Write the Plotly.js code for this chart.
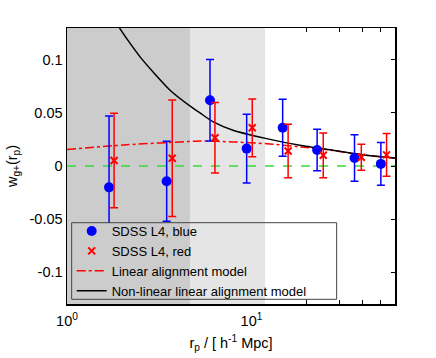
<!DOCTYPE html>
<html>
<head>
<meta charset="utf-8">
<script src="https://cdn.plot.ly/plotly-3.0.1.min.js"></script>
<style>html,body{margin:0;padding:0;background:#fff;}#chart{width:436px;height:358px;}</style>
</head>
<body>
<div id="chart"></div>
<script>
// Measured points (r_p in h^-1 Mpc)
const rpBlue  = [1.69, 3.47, 5.96, 9.42, 14.76, 22.7, 36.2, 50.3];
const wBlue   = [-0.0201, -0.0144, 0.062, 0.0164, 0.036, 0.0151, 0.0075, 0.002];
const errBlue = [0.0673, 0.0377, 0.0384, 0.0324, 0.0269, 0.0195, 0.0219, 0.0202];

const rpRed  = [1.80, 3.72, 6.34, 10.1, 15.8, 24.5, 39.4, 54.0];
const wRed   = [0.0052, 0.0073, 0.0266, 0.036, 0.0142, 0.0101, 0.0083, 0.0105];
const errRed = [0.0445, 0.0548, 0.0332, 0.0272, 0.0252, 0.0211, 0.0123, 0.0202];

// Models
const rpLA = [1.0, 2.1, 4.84, 5.26, 7.94, 12.08, 18.3, 27.7, 42.1, 60];
const wLA  = [0.0155, 0.020, 0.0233, 0.0236, 0.0227, 0.021, 0.018, 0.0146, 0.0100, 0.0074];

const rpNLA = [1.85, 1.92, 2.49, 3.62, 4.84, 5.26, 6.21, 7.94, 12.08, 18.3, 27.7, 42.1, 60];
const wNLA  = [0.138, 0.1306, 0.1028, 0.0714, 0.0542, 0.050, 0.0415, 0.0337, 0.0258, 0.0195, 0.0148, 0.0101, 0.0075];

// Scale cuts (shaded regions)
const xMin = 1, cut1 = 4.64, cut2 = 11.84, xMax = 60;

const xTickVals = [1, 10];
const xTickText = ['10<sup>0</sup>', '10<sup>1</sup>'];
const xMinorVals = [20, 30, 40, 50];
const yTickVals = [-0.1, -0.05, 0, 0.05, 0.1];
const yTickText = ['-0.1', '-0.05', '0', '0.05', '0.1'];

const FONT = 'Liberation Sans, Arial, sans-serif';
const FS = 14.5;
const LFS = 13;

const traces = [
  {x: rpLA, y: wLA, mode: 'lines', name: 'Linear alignment model', legendrank: 3,
   line: {color: '#ff0000', width: 1.5, dash: 'dashdot', shape: 'spline', smoothing: 0.6}},
  {x: rpNLA, y: wNLA, mode: 'lines', name: 'Non-linear linear alignment model', legendrank: 4,
   line: {color: '#000000', width: 1.5, shape: 'spline', smoothing: 0.6}},
  {x: rpBlue, y: wBlue, mode: 'markers', name: 'SDSS L4, blue', legendrank: 1,
   marker: {color: '#0000ff', size: 10, symbol: 'circle'},
   error_y: {type: 'data', array: errBlue, visible: true, color: '#0000ff', thickness: 1.5, width: 4}},
  {x: rpRed, y: wRed, mode: 'markers', name: 'SDSS L4, red', legendrank: 2,
   marker: {color: '#ff0000', size: 7, symbol: 'x-thin', line: {color: '#ff0000', width: 2}},
   error_y: {type: 'data', array: errRed, visible: true, color: '#ff0000', thickness: 1.5, width: 4}},
  {x: [], y: [], yaxis: 'y2', showlegend: false, hoverinfo: 'skip'}
];

// legend box (paper y, data x)
const boxX0 = 1.06, boxX1 = 28.96, boxY0 = 0.017, boxY1 = 0.2946;

const layout = {
  width: 436, height: 358,
  margin: {l: 67, r: 41, t: 28, b: 54, pad: 0},
  paper_bgcolor: '#ffffff', plot_bgcolor: '#ffffff',
  font: {family: FONT, size: FS, color: '#000'},
  showlegend: true,
  legend: {
    traceorder: 'normal',
    x: 0.0143, y: (boxY0 + boxY1) / 2, xanchor: 'left', yanchor: 'middle',
    bgcolor: 'rgba(0,0,0,0)', borderwidth: 0,
    font: {family: FONT, size: LFS, color: '#000'},
    tracegroupgap: 0
  },
  xaxis: {
    type: 'log', range: [Math.log10(xMin), Math.log10(xMax)],
    tickmode: 'array', tickvals: xTickVals, ticktext: xTickText,
    ticks: '', showgrid: false, zeroline: false, ticklabelstandoff: 3,
    showline: true, linecolor: '#000', linewidth: 1.5, mirror: 'allticks',
    minor: {tickmode: 'array', tickvals: xMinorVals, ticks: 'inside', ticklen: 4, tickcolor: '#000', tickwidth: 1, showgrid: false},
    tickfont: {family: FONT, size: FS},
    title: {text: 'r<sub>p</sub> / [ h<sup>-1</sup> Mpc]', font: {family: FONT, size: FS}, standoff: 10}
  },
  yaxis: {
    range: [-0.13, 0.13],
    tickmode: 'array', tickvals: yTickVals, ticktext: yTickText,
    ticks: '', showgrid: false, zeroline: false,
    showline: true, linecolor: '#000', linewidth: 1.5, mirror: true,
    tickfont: {family: FONT, size: FS},
    title: {text: 'w<sub>g+</sub>(r<sub>p</sub>)', font: {family: FONT, size: FS}, standoff: 8}
  },
  yaxis2: {
    overlaying: 'y', side: 'right', range: [-0.13, 0.13],
    tickmode: 'array', tickvals: yTickVals, ticks: 'inside', ticklen: 4, tickcolor: '#000',
    showticklabels: false, showgrid: false, zeroline: false, showline: false
  },
  shapes: [
    {type: 'rect', xref: 'x', yref: 'paper', x0: xMin, x1: cut1, y0: 0, y1: 1, fillcolor: '#cccccc', line: {width: 0}, layer: 'below'},
    {type: 'rect', xref: 'x', yref: 'paper', x0: cut1, x1: cut2, y0: 0, y1: 1, fillcolor: '#e5e5e5', line: {width: 0}, layer: 'below'},
    {type: 'line', xref: 'paper', yref: 'y', x0: 0, x1: 1, y0: 0, y1: 0, line: {color: '#33dd33', width: 1.6, dash: 'dash'}, layer: 'below'},
    // legend interior hides data beneath it, keeping the shading
    {type: 'rect', xref: 'x', yref: 'paper', x0: boxX0, x1: cut1, y0: boxY0, y1: boxY1, fillcolor: '#cccccc', line: {width: 0}, layer: 'above'},
    {type: 'rect', xref: 'x', yref: 'paper', x0: cut1, x1: cut2, y0: boxY0, y1: boxY1, fillcolor: '#e5e5e5', line: {width: 0}, layer: 'above'},
    {type: 'rect', xref: 'x', yref: 'paper', x0: cut2, x1: boxX1, y0: boxY0, y1: boxY1, fillcolor: '#ffffff', line: {width: 0}, layer: 'above'},
    {type: 'rect', xref: 'x', yref: 'paper', x0: boxX0, x1: boxX1, y0: boxY0, y1: boxY1, fillcolor: 'rgba(0,0,0,0)', line: {color: '#444', width: 1}, layer: 'above'}
  ]
};

Plotly.newPlot('chart', traces, layout, {staticPlot: true, displayModeBar: false});
</script>
</body>
</html>
